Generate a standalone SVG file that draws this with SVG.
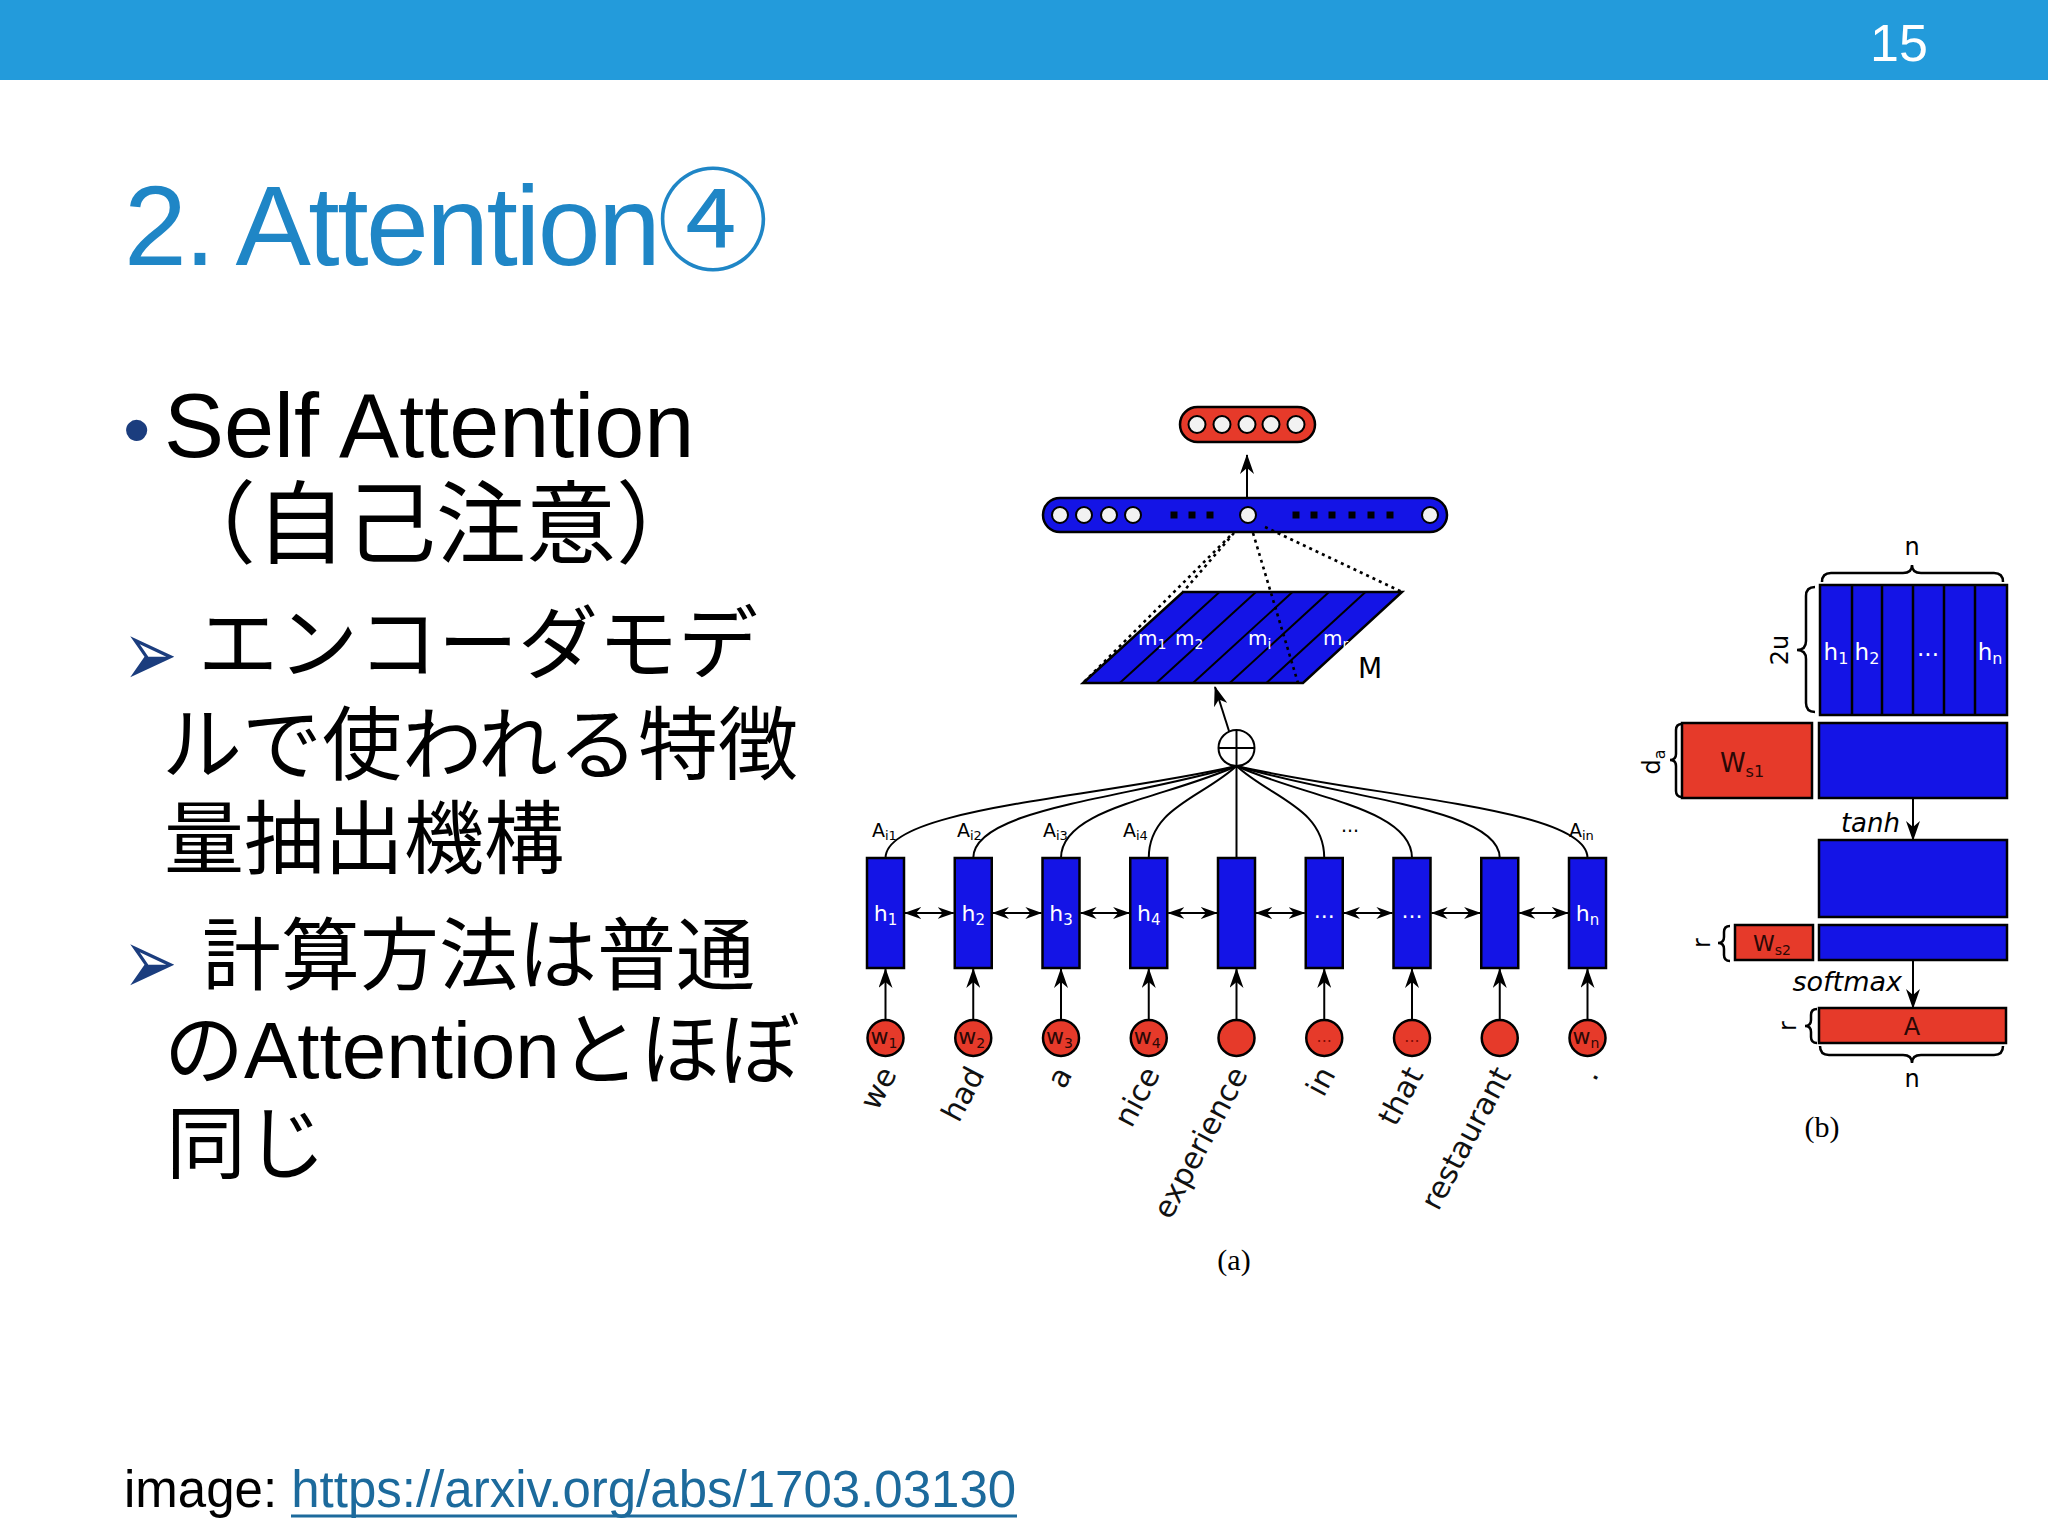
<svg xmlns="http://www.w3.org/2000/svg" width="2048" height="1536" viewBox="0 0 2048 1536">
<style>
.body{font-family:"Liberation Sans","Noto Sans CJK JP",sans-serif;fill:#000}
.fig{font-family:"DejaVu Sans",sans-serif}
.blue{fill:#1414e6;stroke:#000;stroke-width:2.5}
.red{fill:#e63a2a;stroke:#000;stroke-width:2.5}
.wc{fill:#f2f2f2;stroke:#000;stroke-width:2}
.ln{stroke:#000;stroke-width:2;fill:none}
.dot{stroke:#000;stroke-width:2.6;fill:none;stroke-dasharray:3 4}
.brace{stroke:#000;stroke-width:2.5;fill:none}
.wt{fill:#fff}
.dk{fill:#2a0806}
.nav{font-family:"DejaVu Sans",sans-serif;fill:#1b3d7e}
.word{font-family:"DejaVu Sans",sans-serif;font-size:30px;fill:#111;text-anchor:end}
</style>
<defs>
<marker id="ah" viewBox="0 0 20 14" refX="19" refY="7" markerWidth="20" markerHeight="14" markerUnits="userSpaceOnUse" orient="auto-start-reverse"><path d="M0,0 L20,7 L0,14 L6,7 z" fill="#000"/></marker>
<marker id="ahs" viewBox="0 0 20 14" refX="19" refY="7" markerWidth="17" markerHeight="12" markerUnits="userSpaceOnUse" orient="auto-start-reverse"><path d="M0,0 L20,7 L0,14 L6,7 z" fill="#000"/></marker>
</defs>
<rect x="0" y="0" width="2048" height="1536" fill="#fff"/>
<g id="header">
<rect x="0" y="0" width="2048" height="80" fill="#239bdb"/>
<text x="1870" y="61" font-family="Liberation Sans, sans-serif" font-size="52" fill="#fff">15</text>
</g>
<g id="title">
<text x="124" y="265" font-family="Liberation Sans, sans-serif" font-size="113" letter-spacing="-2.6" fill="#1f86c6">2. Attention</text>
<text x="657" y="262" font-family="Noto Sans CJK JP, sans-serif" font-size="112" fill="#1f86c6">④</text>
</g>
<g id="bullets" class="body">
<text x="123" y="456" font-family="Liberation Sans, sans-serif" font-size="78" style="fill:#1b3d7e">•</text>
<text x="164" y="457" font-size="90">Self Attention</text>
<text x="166" y="556" font-size="90">（自己注意）</text>
<text class="nav" font-size="52" transform="translate(123,686) scale(1.25,1.8)">➢</text>
<text x="198" y="672" font-size="80">エンコーダモデ</text>
<text x="162" y="773" font-size="80">ルで使われる特徴</text>
<text x="164" y="867" font-size="80">量抽出機構</text>
<text class="nav" font-size="52" transform="translate(123,994) scale(1.25,1.8)">➢</text>
<text x="202" y="984" font-size="79">計算方法は普通</text>
<text x="164" y="1078" font-size="80">のAttentionとほぼ</text>
<text x="166" y="1172" font-size="80">同じ</text>
</g>
<g id="footer">
<text x="124" y="1507" font-family="Liberation Sans, sans-serif" font-size="51" fill="#000">image: <tspan fill="#1c6a9c">https://arxiv.org/abs/1703.03130</tspan></text>
<line x1="291" y1="1516" x2="1017" y2="1516" stroke="#1c6a9c" stroke-width="3"/>
</g>

<!-- Figure (a) -->
<g id="output-pill">
<rect x="1180" y="407" width="135" height="35" rx="17.5" class="red"/>
<circle cx="1197" cy="424.5" r="8.5" class="wc"/>
<circle cx="1222" cy="424.5" r="8.5" class="wc"/>
<circle cx="1247" cy="424.5" r="8.5" class="wc"/>
<circle cx="1271" cy="424.5" r="8.5" class="wc"/>
<circle cx="1296" cy="424.5" r="8.5" class="wc"/>
</g>
<g id="m-vector">
<rect x="1043" y="498" width="404" height="34" rx="17" class="blue"/>
<circle cx="1060" cy="515" r="8" class="wc"/>
<circle cx="1084" cy="515" r="8" class="wc"/>
<circle cx="1109" cy="515" r="8" class="wc"/>
<circle cx="1133" cy="515" r="8" class="wc"/>
<circle cx="1248" cy="515" r="8" class="wc"/>
<circle cx="1430" cy="515" r="8" class="wc"/>
<g fill="#000">
<rect x="1170.5" y="511.5" width="7" height="7"/><rect x="1188.5" y="511.5" width="7" height="7"/><rect x="1206.5" y="511.5" width="7" height="7"/>
<rect x="1292.5" y="511.5" width="7" height="7"/><rect x="1310.5" y="511.5" width="7" height="7"/><rect x="1328.5" y="511.5" width="7" height="7"/>
<rect x="1348.5" y="511.5" width="7" height="7"/><rect x="1367.5" y="511.5" width="7" height="7"/><rect x="1386.5" y="511.5" width="7" height="7"/>
</g>
</g>
<g id="matrix-M">
<polygon points="1183,592 1402,592 1303,683 1083,683" class="blue"/>
<g class="ln">
<line x1="1219.5" y1="592" x2="1119.7" y2="683"/>
<line x1="1256" y1="592" x2="1156.3" y2="683"/>
<line x1="1292.5" y1="592" x2="1193" y2="683"/>
<line x1="1329" y1="592" x2="1229.7" y2="683"/>
<line x1="1365.5" y1="592" x2="1266.3" y2="683"/>
</g>
<text class="fig wt" font-size="20" x="1138" y="645">m<tspan font-size="14" dy="4">1</tspan></text>
<text class="fig wt" font-size="20" x="1175" y="645">m<tspan font-size="14" dy="4">2</tspan></text>
<text class="fig wt" font-size="20" x="1248" y="645">m<tspan font-size="14" dy="4">i</tspan></text>
<text class="fig wt" font-size="20" x="1323" y="645">m<tspan font-size="14" dy="4">r</tspan></text>
<text class="fig" font-size="28" x="1358" y="678">M</text>
</g>
<g id="sum">
<circle cx="1236.5" cy="748" r="18" fill="#fff" stroke="#000" stroke-width="2"/>
<line x1="1218.5" y1="748" x2="1254.5" y2="748" class="ln"/>
<line x1="1236.5" y1="730" x2="1236.5" y2="766" class="ln"/>
</g>
<g id="hidden-states" class="fig">
<rect x="867" y="858" width="37" height="110" class="blue"/>
<rect x="954.75" y="858" width="37" height="110" class="blue"/>
<rect x="1042.5" y="858" width="37" height="110" class="blue"/>
<rect x="1130.25" y="858" width="37" height="110" class="blue"/>
<rect x="1218" y="858" width="37" height="110" class="blue"/>
<rect x="1305.75" y="858" width="37" height="110" class="blue"/>
<rect x="1393.5" y="858" width="37" height="110" class="blue"/>
<rect x="1481.25" y="858" width="37" height="110" class="blue"/>
<rect x="1569" y="858" width="37" height="110" class="blue"/>
<g class="wt" font-size="22" text-anchor="middle">
<text x="885.5" y="921">h<tspan font-size="15" dy="4">1</tspan></text>
<text x="973.25" y="921">h<tspan font-size="15" dy="4">2</tspan></text>
<text x="1061" y="921">h<tspan font-size="15" dy="4">3</tspan></text>
<text x="1148.75" y="921">h<tspan font-size="15" dy="4">4</tspan></text>
<text x="1324.25" y="918">...</text>
<text x="1412" y="918">...</text>
<text x="1587.5" y="921">h<tspan font-size="15" dy="4">n</tspan></text>
</g>
</g>
<g id="words-in" class="fig">
<circle cx="885.5" cy="1038" r="18" class="red"/>
<circle cx="973.25" cy="1038" r="18" class="red"/>
<circle cx="1061" cy="1038" r="18" class="red"/>
<circle cx="1148.75" cy="1038" r="18" class="red"/>
<circle cx="1236.5" cy="1038" r="18" class="red"/>
<circle cx="1324.25" cy="1038" r="18" class="red"/>
<circle cx="1412" cy="1038" r="18" class="red"/>
<circle cx="1499.75" cy="1038" r="18" class="red"/>
<circle cx="1587.5" cy="1038" r="18" class="red"/>
<g class="dk" font-size="22" text-anchor="middle">
<text x="884" y="1044">w<tspan font-size="14" dy="4">1</tspan></text>
<text x="971.75" y="1044">w<tspan font-size="14" dy="4">2</tspan></text>
<text x="1059.5" y="1044">w<tspan font-size="14" dy="4">3</tspan></text>
<text x="1147.25" y="1044">w<tspan font-size="14" dy="4">4</tspan></text>
<text x="1324.25" y="1042" font-size="16" fill="#7a0a05">...</text>
<text x="1412" y="1042" font-size="16" fill="#7a0a05">...</text>
<text x="1586" y="1044">w<tspan font-size="14" dy="4">n</tspan></text>
</g>
</g>
<g id="word-labels">
<text class="word" transform="translate(897.5,1074) rotate(-62)">we</text>
<text class="word" transform="translate(985.25,1074) rotate(-62)">had</text>
<text class="word" transform="translate(1073,1074) rotate(-62)">a</text>
<text class="word" transform="translate(1160.75,1074) rotate(-62)">nice</text>
<text class="word" transform="translate(1248.5,1074) rotate(-62)">experience</text>
<text class="word" transform="translate(1336.25,1074) rotate(-62)">in</text>
<text class="word" transform="translate(1424,1074) rotate(-62)">that</text>
<text class="word" transform="translate(1511.75,1074) rotate(-62)">restaurant</text>
<text class="word" transform="translate(1599.5,1074) rotate(-62)">.</text>
</g>
<g id="attention-labels" class="fig" font-size="19">
<text x="872" y="837">A<tspan font-size="13" dy="3">i1</tspan></text>
<text x="957" y="837">A<tspan font-size="13" dy="3">i2</tspan></text>
<text x="1043" y="837">A<tspan font-size="13" dy="3">i3</tspan></text>
<text x="1123" y="837">A<tspan font-size="13" dy="3">i4</tspan></text>
<text x="1350" y="832" text-anchor="middle">...</text>
<text x="1569" y="837">A<tspan font-size="13" dy="3">in</tspan></text>
</g>
<text id="label-a" x="1234" y="1270" font-family="Liberation Serif, serif" font-size="30" text-anchor="middle">(a)</text>

<g id="connectors">
<line x1="1247" y1="498" x2="1247" y2="455" class="ln" marker-end="url(#ah)"/>
<line x1="1234" y1="533" x2="1183" y2="592" class="dot"/>
<line x1="1230" y1="536" x2="1083" y2="683" class="dot"/>
<line x1="1253" y1="533" x2="1298" y2="683" class="dot"/>
<line x1="1265" y1="527" x2="1402" y2="592" class="dot"/>
<line x1="1229" y1="731" x2="1215" y2="687" class="ln" marker-end="url(#ah)"/>
<g class="ln">
<path d="M885.5,858 C885.5,808 1096.9,798 1236.5,766"/>
<path d="M973.25,858 C973.25,808 1131.2,798 1236.5,766"/>
<path d="M1061,858 C1061,808 1166.3,798 1236.5,766"/>
<path d="M1148.75,858 C1148.75,808 1201.4,798 1236.5,766"/>
<path d="M1236.5,858 L1236.5,766"/>
<path d="M1324.25,858 C1324.25,808 1271.6,798 1236.5,766"/>
<path d="M1412,858 C1412,808 1306.7,798 1236.5,766"/>
<path d="M1499.75,858 C1499.75,808 1341.8,798 1236.5,766"/>
<path d="M1587.5,858 C1587.5,808 1376.9,798 1236.5,766"/>
</g>
<g class="ln" marker-start="url(#ahs)" marker-end="url(#ahs)">
<line x1="905" y1="913" x2="953.75" y2="913"/>
<line x1="992.75" y1="913" x2="1041.5" y2="913"/>
<line x1="1080.5" y1="913" x2="1129.25" y2="913"/>
<line x1="1168.25" y1="913" x2="1217" y2="913"/>
<line x1="1256" y1="913" x2="1304.75" y2="913"/>
<line x1="1343.75" y1="913" x2="1392.5" y2="913"/>
<line x1="1431.5" y1="913" x2="1480.25" y2="913"/>
<line x1="1519.25" y1="913" x2="1568" y2="913"/>
</g>
<g class="ln" marker-end="url(#ah)">
<line x1="885.5" y1="1020" x2="885.5" y2="969"/>
<line x1="973.25" y1="1020" x2="973.25" y2="969"/>
<line x1="1061" y1="1020" x2="1061" y2="969"/>
<line x1="1148.75" y1="1020" x2="1148.75" y2="969"/>
<line x1="1236.5" y1="1020" x2="1236.5" y2="969"/>
<line x1="1324.25" y1="1020" x2="1324.25" y2="969"/>
<line x1="1412" y1="1020" x2="1412" y2="969"/>
<line x1="1499.75" y1="1020" x2="1499.75" y2="969"/>
<line x1="1587.5" y1="1020" x2="1587.5" y2="969"/>
</g>
<line x1="1913" y1="798" x2="1913" y2="840" class="ln" marker-end="url(#ah)"/>
<line x1="1913" y1="960" x2="1913" y2="1008" class="ln" marker-end="url(#ah)"/>
</g>

<!-- Figure (b) -->
<g id="H-matrix" class="fig">
<rect x="1820" y="585" width="187" height="130" class="blue"/>
<g class="ln" style="stroke-width:2.5">
<line x1="1852" y1="585" x2="1852" y2="715"/>
<line x1="1882" y1="585" x2="1882" y2="715"/>
<line x1="1913" y1="585" x2="1913" y2="715"/>
<line x1="1944" y1="585" x2="1944" y2="715"/>
<line x1="1975" y1="585" x2="1975" y2="715"/>
</g>
<g class="wt" font-size="23" text-anchor="middle">
<text x="1836" y="660">h<tspan font-size="16" dy="4">1</tspan></text>
<text x="1867" y="660">h<tspan font-size="16" dy="4">2</tspan></text>
<text x="1928" y="656">...</text>
<text x="1990" y="660">h<tspan font-size="16" dy="4">n</tspan></text>
</g>
<path class="brace" d="M1822,582 Q1822,573 1831,573 L1903,573 Q1912,573 1912,565 Q1912,573 1921,573 L1994,573 Q2003,573 2003,582"/>
<text x="1912" y="555" font-size="24" text-anchor="middle">n</text>
<path class="brace" d="M1815,587 Q1806,587 1806,596 L1806,641 Q1806,650 1797,650 Q1806,650 1806,659 L1806,703 Q1806,712 1815,712"/>
<text transform="translate(1788,650) rotate(-90)" font-size="24" text-anchor="middle">2u</text>
</g>
<g id="Ws1" class="fig">
<rect x="1682" y="723" width="130" height="75" class="red"/>
<text x="1742" y="772" font-size="26" text-anchor="middle" class="dk">W<tspan font-size="16" dy="5">s1</tspan></text>
<path class="brace" d="M1682,724 Q1676,724 1676,730 L1676,754 Q1676,760 1670,760 Q1676,760 1676,766 L1676,791 Q1676,797 1682,797"/>
<text transform="translate(1660,762) rotate(-90)" font-size="24" text-anchor="middle">d<tspan font-size="16" dy="5">a</tspan></text>
</g>
<g id="WH" class="fig">
<rect x="1819" y="723" width="188" height="75" class="blue"/>
<text x="1900" y="832" font-size="26" font-style="italic" text-anchor="end">tanh</text>
</g>
<g id="tanh-out" class="fig">
<rect x="1819" y="840" width="188" height="77" class="blue"/>
</g>
<g id="Ws2" class="fig">
<rect x="1735" y="925" width="78" height="35" class="red"/>
<text x="1772" y="951" font-size="22" text-anchor="middle" class="dk">W<tspan font-size="14" dy="4">s2</tspan></text>
<path class="brace" d="M1730,926 Q1724,926 1724,932 L1724,937 Q1724,943 1718,943 Q1724,943 1724,949 L1724,955 Q1724,961 1730,961"/>
<text transform="translate(1710,943) rotate(-90)" font-size="24" text-anchor="middle">r</text>
</g>
<g id="Ws2-out" class="fig">
<rect x="1819" y="925" width="188" height="35" class="blue"/>
<text x="1902" y="991" font-size="27" font-style="italic" text-anchor="end">softmax</text>
</g>
<g id="A-matrix" class="fig">
<rect x="1819" y="1008" width="187" height="35" class="red"/>
<text x="1912" y="1035" font-size="24" text-anchor="middle" class="dk">A</text>
<path class="brace" d="M1817,1009 Q1811,1009 1811,1015 L1811,1020 Q1811,1026 1805,1026 Q1811,1026 1811,1032 L1811,1037 Q1811,1043 1817,1043"/>
<text transform="translate(1796,1026) rotate(-90)" font-size="24" text-anchor="middle">r</text>
<path class="brace" d="M1820,1046 Q1820,1055 1829,1055 L1903,1055 Q1912,1055 1912,1063 Q1912,1055 1921,1055 L1994,1055 Q2003,1055 2003,1046"/>
<text x="1912" y="1087" font-size="24" text-anchor="middle">n</text>
</g>
<text id="label-b" x="1822" y="1137" font-family="Liberation Serif, serif" font-size="30" text-anchor="middle">(b)</text>
</svg>
